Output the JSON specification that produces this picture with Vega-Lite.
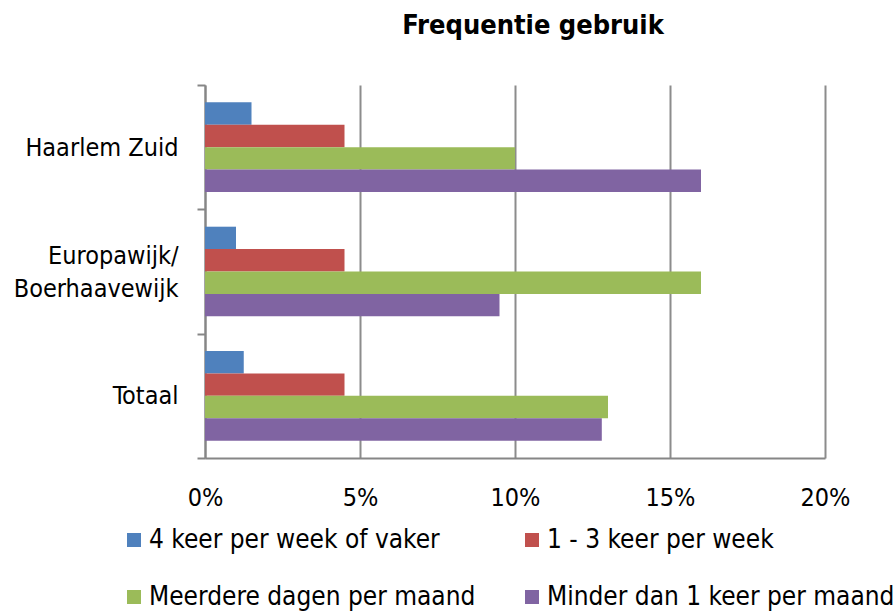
{
  "$schema": "https://vega.github.io/schema/vega-lite/v6.json",
  "autosize": {"type": "none"},
  "width": 620,
  "height": 373,
  "padding": {"left": 205, "top": 85, "right": 71, "bottom": 156},
  "background": "white",
  "title": {
    "text": "Frequentie gebruik",
    "font": "DejaVu Sans Condensed",
    "fontSize": 27,
    "fontWeight": "bold",
    "color": "#000000",
    "anchor": "middle",
    "dx": 18,
    "offset": 33
  },
  "data": {
    "values": [
      {"gebied": "Haarlem Zuid", "frequentie": "4 keer per week of vaker", "aandeel": 0.015},
      {"gebied": "Haarlem Zuid", "frequentie": "1 - 3 keer per week", "aandeel": 0.045},
      {"gebied": "Haarlem Zuid", "frequentie": "Meerdere dagen per maand", "aandeel": 0.10},
      {"gebied": "Haarlem Zuid", "frequentie": "Minder dan 1 keer per maand", "aandeel": 0.16},
      {"gebied": "Europawijk/Boerhaavewijk", "frequentie": "4 keer per week of vaker", "aandeel": 0.010},
      {"gebied": "Europawijk/Boerhaavewijk", "frequentie": "1 - 3 keer per week", "aandeel": 0.045},
      {"gebied": "Europawijk/Boerhaavewijk", "frequentie": "Meerdere dagen per maand", "aandeel": 0.16},
      {"gebied": "Europawijk/Boerhaavewijk", "frequentie": "Minder dan 1 keer per maand", "aandeel": 0.095},
      {"gebied": "Totaal", "frequentie": "4 keer per week of vaker", "aandeel": 0.0125},
      {"gebied": "Totaal", "frequentie": "1 - 3 keer per week", "aandeel": 0.045},
      {"gebied": "Totaal", "frequentie": "Meerdere dagen per maand", "aandeel": 0.13},
      {"gebied": "Totaal", "frequentie": "Minder dan 1 keer per maand", "aandeel": 0.128}
    ]
  },
  "mark": {"type": "bar"},
  "encoding": {
    "y": {
      "field": "gebied",
      "type": "nominal",
      "sort": ["Haarlem Zuid", "Europawijk/Boerhaavewijk", "Totaal"],
      "scale": {"paddingInner": 0, "paddingOuter": 0},
      "axis": {
        "title": null,
        "tickBand": "extent",
        "grid": false,
        "tickSize": 8,
        "tickColor": "#868686",
        "tickWidth": 2,
        "domainColor": "#868686",
        "domainWidth": 2,
        "labelFont": "DejaVu Sans Condensed",
        "labelFontSize": 25,
        "labelColor": "#000000",
        "labelPadding": 19,
        "labelAlign": "right",
        "labelLimit": 300,
        "labelLineHeight": 33,
        "labelOffset": {"condition": {"test": "datum.value == 'Europawijk/Boerhaavewijk'", "value": -16}, "value": 0},
        "labelExpr": "datum.label == 'Europawijk/Boerhaavewijk' ? ['Europawijk/', 'Boerhaavewijk'] : datum.label"
      }
    },
    "yOffset": {
      "field": "frequentie",
      "type": "nominal",
      "sort": ["4 keer per week of vaker", "1 - 3 keer per week", "Meerdere dagen per maand", "Minder dan 1 keer per maand"],
      "scale": {"paddingInner": 0, "paddingOuter": 0.775}
    },
    "x": {
      "field": "aandeel",
      "type": "quantitative",
      "scale": {"domain": [0, 0.2], "nice": false},
      "axis": {
        "title": null,
        "values": [0, 0.05, 0.1, 0.15, 0.2],
        "format": ".0%",
        "grid": true,
        "gridColor": "#8c8c8c",
        "gridWidth": 2,
        "ticks": false,
        "domainColor": "#868686",
        "domainWidth": 2,
        "labelFont": "DejaVu Sans Condensed",
        "labelFontSize": 25,
        "labelColor": "#000000",
        "labelPadding": 27,
        "labelFlush": false
      }
    },
    "color": {
      "field": "frequentie",
      "type": "nominal",
      "sort": ["4 keer per week of vaker", "1 - 3 keer per week", "Meerdere dagen per maand", "Minder dan 1 keer per maand"],
      "scale": {
        "domain": ["4 keer per week of vaker", "1 - 3 keer per week", "Meerdere dagen per maand", "Minder dan 1 keer per maand"],
        "range": ["#4F81BD", "#C0504D", "#9BBB59", "#8064A2"]
      },
      "legend": {
        "title": null,
        "orient": "none",
        "direction": "horizontal",
        "legendX": -84,
        "legendY": 442,
        "columns": 2,
        "columnPadding": 43,
        "rowPadding": 31,
        "symbolType": "square",
        "symbolSize": 196,
        "symbolStrokeWidth": 0,
        "labelOffset": 2,
        "labelFont": "DejaVu Sans Condensed",
        "labelFontSize": 26,
        "labelColor": "#000000",
        "labelLimit": 500
      }
    }
  },
  "config": {"view": {"stroke": null}}
}
